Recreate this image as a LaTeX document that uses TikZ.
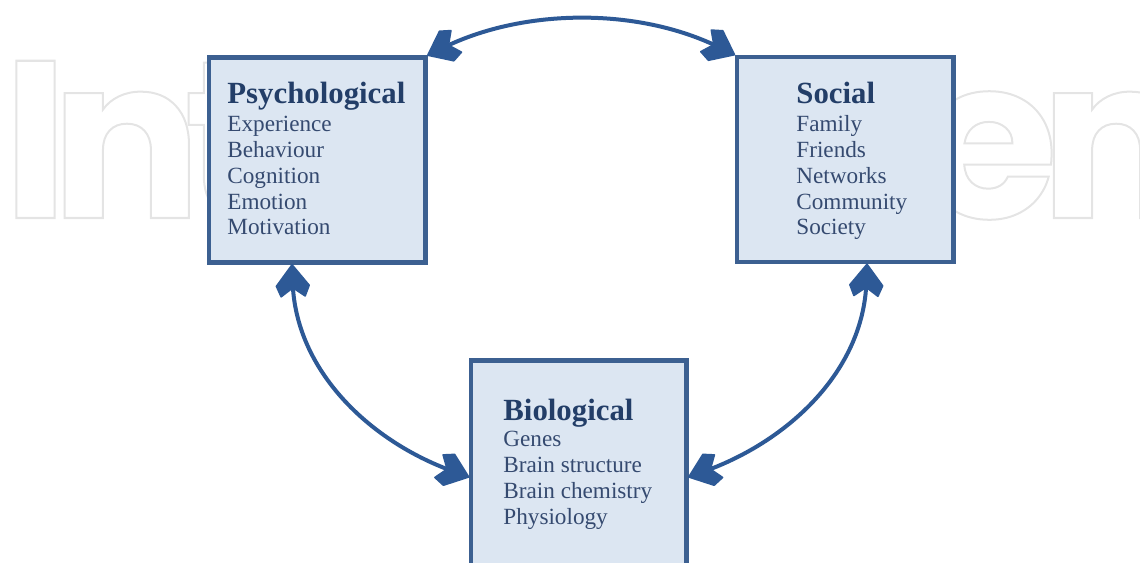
\documentclass[tikz,border=0pt]{standalone}
\usepackage{fontspec}
\setmainfont{Liberation Serif}
\usetikzlibrary{decorations.markings}
\newfontfamily\wmfont{Poppins}[LetterSpace=-8]
\definecolor{arrowblue}{HTML}{2D5996}
\definecolor{boxblue}{HTML}{3C6091}
\definecolor{boxfill}{HTML}{DCE6F2}
\definecolor{headblue}{HTML}{233E68}
\definecolor{itemblue}{HTML}{354A70}
\definecolor{wmgray}{HTML}{E4E4E4}
\tikzset{
  box/.style={draw=boxblue, fill=boxfill, line width=2.25pt, inner sep=0pt,
    minimum width=108.25pt, minimum height=102.5pt},
  head/.style={anchor=base west, inner sep=0pt, text=headblue,
    font=\bfseries\fontsize{15.4}{18}\selectfont},
  items/.style={anchor=base west, inner sep=0pt, text=itemblue,
    font=\fontsize{11.6}{12.9}\selectfont},
  headfill/.style={fill=arrowblue, draw=arrowblue, line width=0.8pt, line join=round,
    shorten <=0pt, shorten >=0pt},
  link/.style={draw=arrowblue, line width=2pt, shorten <=9pt, shorten >=9pt,
    postaction={decorate},
    decoration={markings,
      mark=at position 0.0001 with {\path[headfill, rotate=180] (0pt,0pt) -- (-10.5pt,8.2pt) -- (-15.8pt,6pt) -- (-11.5pt,0pt) -- (-15.8pt,-6pt) -- (-10.5pt,-8.2pt) -- cycle;},
      mark=at position 0.9999 with {\path[headfill] (0pt,0pt) -- (-10.5pt,8.2pt) -- (-15.8pt,6pt) -- (-11.5pt,0pt) -- (-15.8pt,-6pt) -- (-10.5pt,-8.2pt) -- cycle;}}},
  wm/.style={anchor=base west, inner sep=0pt, text=wmgray,
    font=\wmfont\bfseries\fontsize{112}{112}\selectfont}
}
\begin{document}
\begin{tikzpicture}[x=0.5pt,y=-0.5pt]
\useasboundingbox (0,0) rectangle (1140,562);
% faint watermark
\node[wm] (wmark) at (2,218) {\special{pdf:literal direct 1 Tr 1 w}IntechOpen\special{pdf:literal direct 0 Tr}};
\fill[white] (207,0) rectangle (956,562);
% boxes
\node[box] (psy) at (317.25,160) {};
\node[box] (soc) at (845,159.5) {};
\node[box, minimum width=107.75pt, minimum height=116.5pt] (bio) at (578.75,477) {};
% texts
\node[head] (psyh) at (227,103.5) {Psychological};
\node[items] (psyi) at (227,131.7) {\begin{tabular}[t]{@{}l@{}}Experience\\Behaviour\\Cognition\\Emotion\\Motivation\end{tabular}};
\node[head] (soch) at (796,103.5) {Social};
\node[items] (soci) at (796,131.7) {\begin{tabular}[t]{@{}l@{}}Family\\Friends\\Networks\\Community\\Society\end{tabular}};
\node[head] (bioh) at (503,420) {Biological};
\node[items] (bioi) at (503,446.7) {\begin{tabular}[t]{@{}l@{}}Genes\\Brain structure\\Brain chemistry\\Physiology\end{tabular}};
% connectors
\draw[link] (psy.north east) to[out=26,in=154,looseness=0.9] (soc.north west);
\draw[link] ([xshift=-12.6pt]psy.south) to[out=-88,in=160,looseness=0.98] (bio.west);
\draw[link] ([xshift=11pt]soc.south) to[out=-92,in=20,looseness=0.98] (bio.east);
\end{tikzpicture}
\end{document}
